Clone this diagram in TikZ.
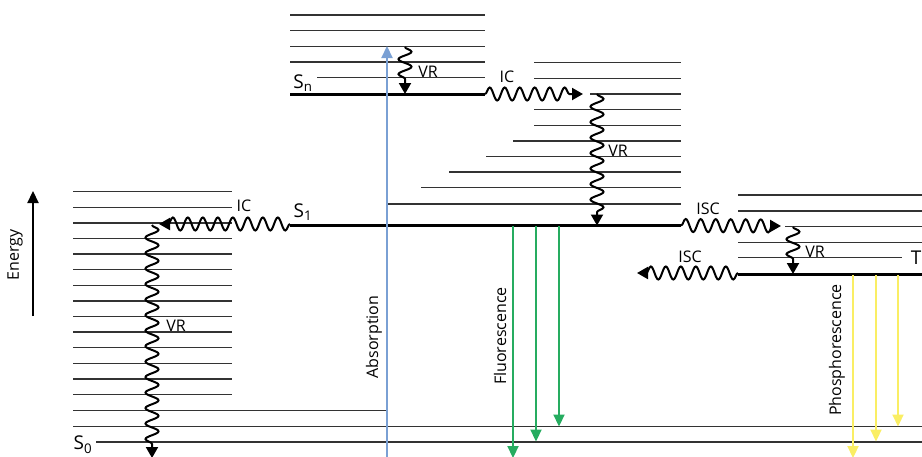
\documentclass[tikz,border=0pt]{standalone}
\usepackage{fontspec}
\setmainfont{Open Sans}
\usetikzlibrary{arrows.meta,decorations.pathmorphing}
\definecolor{absblue}{RGB}{122,160,212}
\definecolor{fluogreen}{RGB}{38,172,96}
\definecolor{phosyellow}{RGB}{250,238,100}
\tikzset{
	level/.style={line width=1.3pt, black!80},
	state/.style={line width=3pt, black},
	wavy/.style={line width=2pt, decorate, decoration={snake, amplitude=6.5pt, segment length=15pt, post length=8pt}, -{Triangle[length=11pt,width=12pt]}},
	emission/.style={line width=2.2pt, -{Triangle[length=12pt,width=11pt]}},
	lbl/.style={inner sep=0pt, font=\fontsize{16pt}{18pt}\selectfont},
	statelbl/.style={inner sep=0pt, font=\fontsize{19pt}{21pt}\selectfont},
}
\begin{document}
\begin{tikzpicture}[x=1pt, y=-1pt]
	\useasboundingbox (0, 0) rectangle (922, 456);
	% S0 manifold
	\foreach \i in {0, ..., 13} {
		\draw[level] (73, 191.7 + 15.6*\i) -- (232, 191.7 + 15.6*\i);
	}
	\draw[level] (73, 410.5) -- (387, 410.5);
	\draw[level] (73, 426.5) -- (922, 426.5);
	\draw[level] (96, 442) -- (922, 442);
	% Sn manifold
	\foreach \y in {15, 30.7, 46.3, 62} {
		\draw[level] (290, \y) -- (485, \y);
	}
	\draw[level] (317, 77.5) -- (485, 77.5);
	\draw[state] (290, 94) -- (485, 94);
	% S1 manifold
	\foreach \y in {62.7, 78.3, 109.7, 125.3} {
		\draw[level] (534, \y) -- (681, \y);
	}
	\draw[level] (590, 94) -- (681, 94);
	\foreach \y/\x in {141/513, 156.5/486, 172/449, 187.7/421, 204/388} {
		\draw[level] (\x, \y) -- (681, \y);
	}
	\draw[state] (290, 225.5) -- (681, 225.5);
	% T1 manifold
	\foreach \y in {195, 211, 242.3} {
		\draw[level] (738, \y) -- (922, \y);
	}
	\draw[level] (785, 226.7) -- (922, 226.7);
	\draw[level] (738, 257.7) -- (902, 257.7);
	\draw[state] (738, 274) -- (922, 274);

	\node[statelbl] (sn) at (303, 83) {S\textsubscript{n}};
	\node[statelbl] (s1) at (303, 212) {S\textsubscript{1}};
	\node[statelbl] (s0) at (83, 445) {S\textsubscript{0}};
	\node[statelbl] (t1) at (916, 258) {T};

	% end points of the transitions
	\coordinate (snvrA) at (405, 47);
	\coordinate (snvrB) at (405, 94);
	\coordinate (icA) at (485, 94);
	\coordinate (icB) at (583, 94);
	\coordinate (sivrA) at (597, 94);
	\coordinate (sivrB) at (597, 225.5);
	\coordinate (icleftA) at (290, 224);
	\coordinate (icleftB) at (159, 224);
	\coordinate (sovrA) at (152, 225);
	\coordinate (sovrB) at (152, 458);
	\coordinate (iscA) at (681, 225.5);
	\coordinate (iscB) at (781, 226);
	\coordinate (tvrA) at (793, 227);
	\coordinate (tvrB) at (793, 274);
	\coordinate (iscleftA) at (738, 273);
	\coordinate (iscleftB) at (637, 273);

	\draw[wavy, decoration={segment length=15pt}] (snvrA) -- (snvrB);
	\draw[wavy] (icA) -- (icB);
	\draw[wavy, decoration={segment length=15.5pt}] (sivrA) -- (sivrB);
	\draw[wavy] (icleftA) -- (icleftB);
	\draw[wavy, decoration={segment length=15.5pt}] (sovrA) -- (sovrB);
	\draw[wavy] (iscA) -- (iscB);
	\draw[wavy, decoration={segment length=15pt}] (tvrA) -- (tvrB);
	\draw[wavy] (iscleftA) -- (iscleftB);

	\node[lbl] (snvr) at (428, 72) {VR};
	\node[lbl] (ic) at (507, 77) {IC};
	\node[lbl] (sivr) at (618, 151) {VR};
	\node[lbl] (icleft) at (244, 206) {IC};
	\node[lbl] (sovr) at (176, 326) {VR};
	\node[lbl] (isc) at (708, 209) {ISC};
	\node[lbl] (tvr) at (815, 252) {VR};
	\node[lbl] (iscleft) at (690, 257) {ISC};

	% absorption
	\coordinate (absA) at (387, 458);
	\coordinate (absB) at (387, 46);
	\draw[emission, absblue] (absA) -- (absB);
	\node[lbl, rotate=90] (abs) at (374, 337) {Absorption};

	% fluorescence
	\foreach \x/\y [count=\k] in {513/458, 536/441.5, 559/426.5} {
		\coordinate (flA\k) at (\x, 226);
		\coordinate (flB\k) at (\x, \y);
		\draw[emission, fluogreen] (flA\k) -- (flB\k);
	}
	\node[lbl, rotate=90] (fluo) at (500, 336) {Fluorescence};

	% phosphorescence
	\foreach \x/\y [count=\k] in {853/458, 876/441.5, 898/426.5} {
		\coordinate (phA\k) at (\x, 275);
		\coordinate (phB\k) at (\x, \y);
		\draw[emission, phosyellow] (phA\k) -- (phB\k);
	}
	\node[lbl, rotate=90] (phos) at (837, 350) {Phosphorescence};

	% energy axis
	\coordinate (enA) at (33, 316);
	\coordinate (enB) at (33, 191);
	\draw[emission] (enA) -- (enB);
	\node[lbl, rotate=90] (energy) at (15, 255) {Energy};
\end{tikzpicture}
\end{document}
